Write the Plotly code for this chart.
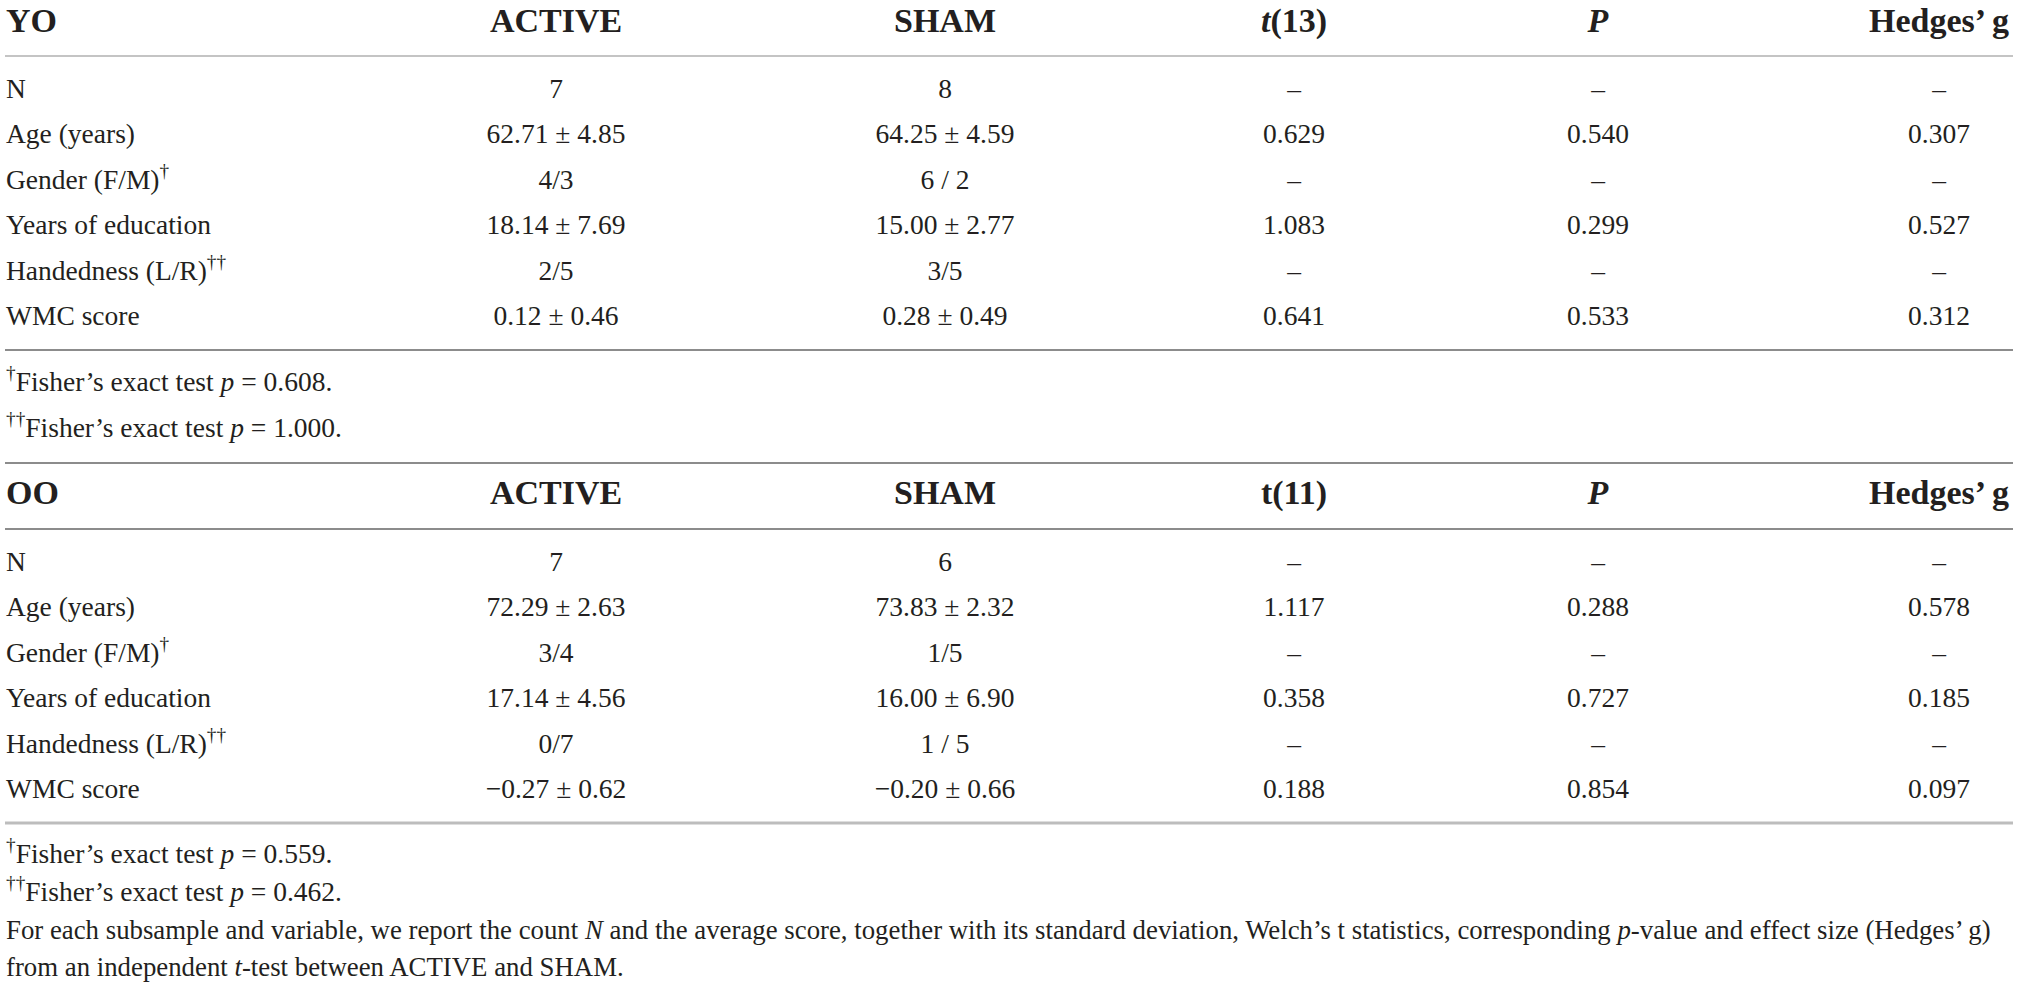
import plotly.graph_objects as go

# -----------------------------
# Table content
# -----------------------------
row_labels = [
    "N",
    "Age (years)",
    "Gender (F/M)<sup>†</sup>",
    "Years of education",
    "Handedness (L/R)<sup>††</sup>",
    "WMC score",
]

yo_header = ["YO", "ACTIVE", "SHAM", "<i>t</i>(13)", "<i>P</i>", "Hedges’ g"]
yo_active = ["7", "62.71 ± 4.85", "4/3", "18.14 ± 7.69", "2/5", "0.12 ± 0.46"]
yo_sham = ["8", "64.25 ± 4.59", "6 / 2", "15.00 ± 2.77", "3/5", "0.28 ± 0.49"]
yo_t = ["–", "0.629", "–", "1.083", "–", "0.641"]
yo_p = ["–", "0.540", "–", "0.299", "–", "0.533"]
yo_g = ["–", "0.307", "–", "0.527", "–", "0.312"]
yo_notes = [
    "<sup>†</sup>Fisher’s exact test <i>p</i> = 0.608.",
    "<sup>††</sup>Fisher’s exact test <i>p</i> = 1.000.",
]

oo_header = ["OO", "ACTIVE", "SHAM", "t(11)", "<i>P</i>", "Hedges’ g"]
oo_active = ["7", "72.29 ± 2.63", "3/4", "17.14 ± 4.56", "0/7", "−0.27 ± 0.62"]
oo_sham = ["6", "73.83 ± 2.32", "1/5", "16.00 ± 6.90", "1 / 5", "−0.20 ± 0.66"]
oo_t = ["–", "1.117", "–", "0.358", "–", "0.188"]
oo_p = ["–", "0.288", "–", "0.727", "–", "0.854"]
oo_g = ["–", "0.578", "–", "0.185", "–", "0.097"]
oo_notes = [
    "<sup>†</sup>Fisher’s exact test <i>p</i> = 0.559.",
    "<sup>††</sup>Fisher’s exact test <i>p</i> = 0.462.",
]
caption = [
    "For each subsample and variable, we report the count <i>N</i> and the average score, "
    "together with its standard deviation, Welch’s t statistics, corresponding <i>p</i>-value "
    "and effect size (Hedges’ g)",
    "from an independent <i>t</i>-test between ACTIVE and SHAM.",
]

# -----------------------------
# Layout (page pixels)
# -----------------------------
W, H = 2019, 988
FONT = "Liberation Serif"
INK = "#231f20"
BODY = 27.5
HEAD = 34
CAP = 26.8
LEFT = 6
RIGHT = 2013
col_x = [LEFT, 556, 945, 1294, 1598, 1939]
ROW_STEP = 45.5

sections = [
    dict(header=yo_header, cols=[row_labels, yo_active, yo_sham, yo_t, yo_p, yo_g],
         head_y=23, row0=91, notes=yo_notes, note_y=[384, 430]),
    dict(header=oo_header, cols=[row_labels, oo_active, oo_sham, oo_t, oo_p, oo_g],
         head_y=495, row0=564, notes=oo_notes, note_y=[856, 894]),
]

fig = go.Figure()


def add_text(xs, ys, texts, pos, size):
    fig.add_trace(go.Scatter(
        x=xs, y=ys, mode="text",
        text=texts, textposition=pos,
        textfont=dict(family=FONT, size=size, color=INK),
        hoverinfo="skip", showlegend=False,
    ))


for sec in sections:
    rows_y = [sec["row0"] + i * ROW_STEP for i in range(len(row_labels))]
    for j, (x, head, vals) in enumerate(zip(col_x, sec["header"], sec["cols"])):
        pos = "middle right" if j == 0 else "middle center"
        add_text([x], [sec["head_y"]], ["<b>" + head + "</b>"], pos, HEAD)
        add_text([x] * len(vals), rows_y, vals, pos, BODY)
    add_text([LEFT] * len(sec["notes"]), sec["note_y"], sec["notes"], "middle right", BODY)

add_text([LEFT] * len(caption), [932, 969], caption, "middle right", CAP)

# -----------------------------
# Horizontal rules
# -----------------------------
rules = [
    (56, "#c4c4c4", 2),
    (350, "#8c8c8c", 2),
    (463, "#8c8c8c", 2),
    (529, "#8c8c8c", 2),
    (823, "#bdbdbd", 3),
]
for y, color, width in rules:
    fig.add_shape(type="line", xref="x", yref="y", x0=LEFT - 1, x1=RIGHT, y0=y, y1=y,
                  line=dict(color=color, width=width))

fig.update_layout(
    width=W, height=H,
    margin=dict(l=0, r=0, t=0, b=0),
    paper_bgcolor="white", plot_bgcolor="white",
    xaxis=dict(range=[0, W], visible=False, fixedrange=True),
    yaxis=dict(range=[H, 0], visible=False, fixedrange=True),
)

# the page body has a default 8px margin, drop it so the figure fills the window
fig.write_html(
    "out.html",
    config={"displayModeBar": False},
    post_script="document.body.style.margin='0';",
)
